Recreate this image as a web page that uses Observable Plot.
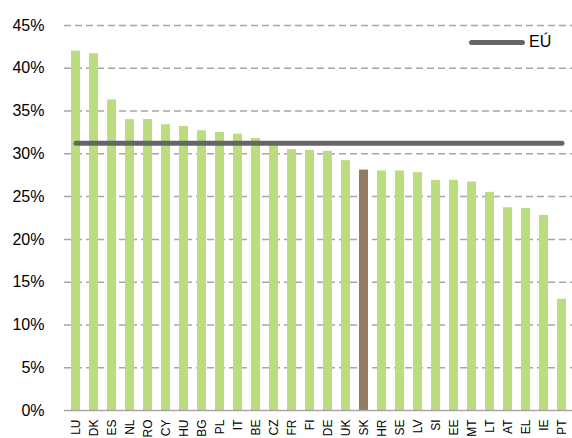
<!DOCTYPE html>
<html>
<head>
<meta charset="utf-8">
<script src="https://cdn.jsdelivr.net/npm/d3@7"></script>
<script src="https://cdn.jsdelivr.net/npm/@observablehq/plot@0.6"></script>
<style>
  html, body { margin: 0; padding: 0; background: #fff; }
  #wrap { position: relative; width: 572px; height: 438px; overflow: hidden; font-family: "Liberation Sans", Arial, sans-serif; }
  #legend { position: absolute; left: 469px; top: 33px; display: flex; align-items: center; font-size: 16px; color: #000; }
  #legend .sw { width: 56px; height: 5px; border-radius: 3px; background: #666666; margin-right: 4px; }
</style>
</head>
<body>
<div id="wrap"><div id="legend"><span class="sw"></span><span>EÚ</span></div></div>
<script>
const countries = ["LU","DK","ES","NL","RO","CY","HU","BG","PL","IT","BE","CZ","FR","FI","DE","UK","SK","HR","SE","LV","SI","EE","MT","LT","AT","EL","IE","PT"];
const values = [42.0,41.7,36.3,34.0,34.0,33.4,33.2,32.7,32.5,32.3,31.8,31.1,30.5,30.4,30.3,29.2,28.1,28.0,28.0,27.8,26.9,26.9,26.7,25.5,23.7,23.6,22.8,13.0];
const euAverage = 31.25;
const highlight = "SK";
const yTicks = [0,5,10,15,20,25,30,35,40,45];

const data = countries.map((c, i) => ({country: c, value: values[i], eu: euAverage}));

const chart = Plot.plot({
  width: 572,
  height: 438,
  marginLeft: 64,
  marginRight: 0,
  marginTop: 25,
  marginBottom: 28,
  style: {fontFamily: "'Liberation Sans', Arial, sans-serif", background: "transparent"},
  x: {domain: countries, paddingInner: 0.5, paddingOuter: 0.25, label: null},
  y: {domain: [0, 45], label: null},
  marks: [
    Plot.ruleY(yTicks.filter(d => d > 0), {stroke: "#a6a6a6", strokeWidth: 1.5, strokeDasharray: "7,4"}),
    Plot.barY(data, {x: "country", y: "value", fill: d => d.country === highlight ? "#957b62" : "#bbdc7f"}),
    Plot.ruleY([0], {stroke: "#a6a6a6", strokeWidth: 1.5}),
    Plot.lineY(data, {x: "country", y: "eu", stroke: "#666666", strokeWidth: 5, strokeLinecap: "round"}),
    Plot.axisY({ticks: yTicks, tickSize: 0, tickPadding: 20, tickFormat: d => d + "%", fontSize: 16, fill: "#000", label: null}),
    Plot.axisX({tickSize: 0, tickPadding: 9, tickRotate: -90, fontSize: 12, fill: "#000", label: null})
  ]
});
document.getElementById("wrap").prepend(chart);
</script>
</body>
</html>
